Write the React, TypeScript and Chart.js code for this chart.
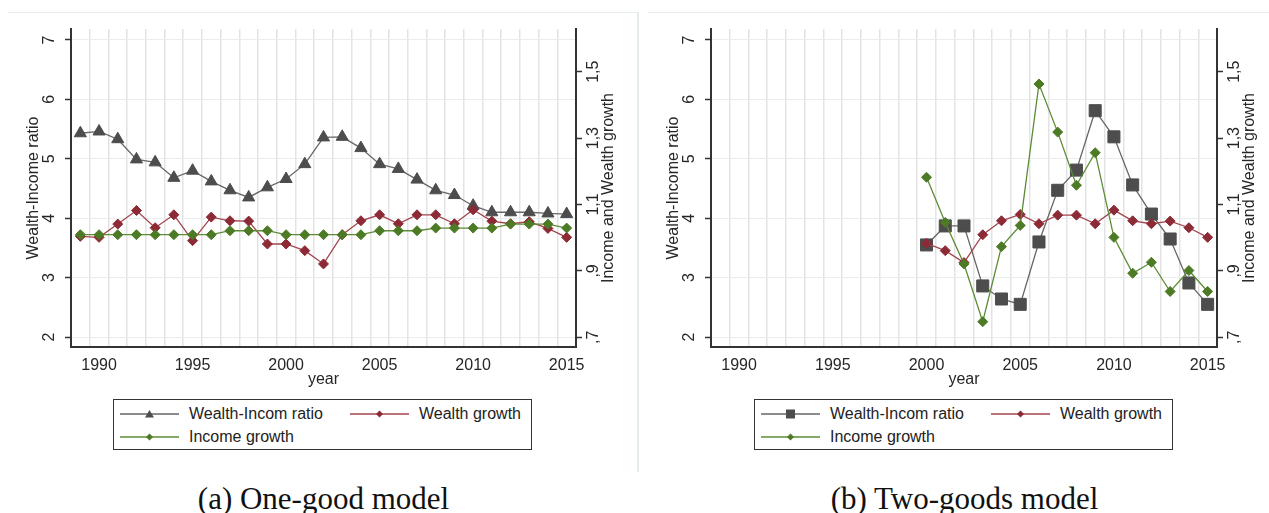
import React, { useEffect, useRef } from "react";
import { Chart, registerables } from "chart.js";
Chart.register(...registerables);

// ---------- data ----------
const years1 = [1989, 1990, 1991, 1992, 1993, 1994, 1995, 1996, 1997, 1998, 1999, 2000, 2001, 2002, 2003, 2004, 2005, 2006, 2007, 2008, 2009, 2010, 2011, 2012, 2013, 2014, 2015];
const oneRatio = [5.43, 5.46, 5.33, 4.99, 4.94, 4.68, 4.8, 4.62, 4.47, 4.35, 4.52, 4.66, 4.91, 5.36, 5.37, 5.18, 4.91, 4.83, 4.65, 4.47, 4.39, 4.21, 4.1, 4.1, 4.1, 4.08, 4.07];
const oneWealth = [1.004, 1.001, 1.041, 1.082, 1.03, 1.069, 0.991, 1.062, 1.051, 1.05, 0.981, 0.981, 0.961, 0.921, 1.009, 1.051, 1.069, 1.042, 1.069, 1.069, 1.042, 1.084, 1.05, 1.042, 1.048, 1.028, 1.001];
const oneIncome = [1.009, 1.009, 1.009, 1.009, 1.009, 1.009, 1.009, 1.009, 1.021, 1.021, 1.021, 1.009, 1.009, 1.009, 1.009, 1.009, 1.021, 1.021, 1.021, 1.029, 1.029, 1.029, 1.029, 1.041, 1.041, 1.041, 1.029];

const years2 = [2000, 2001, 2002, 2003, 2004, 2005, 2006, 2007, 2008, 2009, 2010, 2011, 2012, 2013, 2014, 2015];
const twoRatio = [3.55, 3.87, 3.87, 2.86, 2.64, 2.55, 3.6, 4.47, 4.81, 5.81, 5.37, 4.56, 4.07, 3.65, 2.91, 2.55];
const twoWealth = [0.983, 0.961, 0.925, 1.009, 1.051, 1.07, 1.042, 1.068, 1.068, 1.042, 1.083, 1.051, 1.042, 1.05, 1.03, 1.001];
const twoIncome = [1.182, 1.046, 0.921, 0.747, 0.973, 1.037, 1.463, 1.318, 1.158, 1.256, 1.001, 0.893, 0.926, 0.838, 0.901, 0.838];

const leftTicks = [2, 3, 4, 5, 6, 7];
const rightTicks = [0.7, 0.9, 1.1, 1.3, 1.5];
const rightTickLabels = [",7", ",9", "1,1", "1,3", "1,5"];
const xLabelYears = [1990, 1995, 2000, 2005, 2010, 2015];

const legendLabels = ["Wealth-Incom ratio", "Wealth growth", "Income growth"];
const captions = ["(a) One-good model", "(b) Two-goods model"];

// ---------- styles ----------
const SANS = '"Liberation Sans", Arial, sans-serif';
const GRAY = "#4d4d4d";
const GRAY_LINE = "#666666";
const RED = "#8c2a36";
const RED_LINE = "#a3454f";
const GREEN = "#4d7a25";
const GREEN_LINE = "#5c8c33";
const AXIS = "#333333";

const axisTextPlugin = {
  id: "axisText",
  afterDraw(chart: any) {
    const ctx = chart.ctx;
    const { left, right, bottom } = chart.chartArea;
    const ys = chart.scales.y;
    const y1 = chart.scales.y1;
    const xs = chart.scales.x;
    ctx.save();
    ctx.fillStyle = "#262626";
    ctx.font = `16px ${SANS}`;
    ctx.textAlign = "center";
    ctx.textBaseline = "middle";
    const rot = (text: string, x: number, y: number) => {
      ctx.save();
      ctx.translate(x, y);
      ctx.rotate(-Math.PI / 2);
      ctx.fillText(text, 0, 0);
      ctx.restore();
    };
    leftTicks.forEach((v) => rot(String(v), left - 21, ys.getPixelForValue(v)));
    rightTicks.forEach((v, i) => rot(rightTickLabels[i], right + 18, y1.getPixelForValue(v)));
    const midY = (chart.chartArea.top + bottom) / 2;
    rot("Wealth-Income ratio", left - 37, midY);
    rot("Income and Wealth growth", right + 33, midY);
    xLabelYears.forEach((v) => ctx.fillText(String(v), xs.getPixelForValue(v), bottom + 19));
    ctx.fillText("year", (left + right) / 2, bottom + 33);
    ctx.restore();
  },
};

function makeConfig(datasets: any[], rightW: number) {
  return {
    type: "line",
    data: { datasets },
    plugins: [axisTextPlugin],
    options: {
      responsive: false,
      maintainAspectRatio: false,
      animation: false,
      layout: { padding: { top: 17, left: 0, right: 0, bottom: 0 } },
      plugins: { legend: { display: false }, tooltip: { enabled: false } },
      scales: {
        x: {
          type: "linear",
          min: 1988.5,
          max: 2015.5,
          ticks: { display: false, stepSize: 1, includeBounds: false, autoSkip: false },
          grid: {
            color: "#e3e3e3",
            lineWidth: 1.5,
            tickLength: 6,
            tickWidth: 1.5,
            tickColor: (c: any) => (c.tick && c.tick.value % 5 === 0 ? AXIS : "rgba(0,0,0,0)"),
          },
          border: { color: AXIS, width: 2 },
          afterFit: (s: any) => { s.height = 50; },
        },
        y: {
          type: "linear",
          position: "left",
          min: 1.832,
          max: 7.185,
          ticks: { display: false, stepSize: 1, includeBounds: false },
          grid: { color: "#e8eeee", lineWidth: 1, tickLength: 6, tickWidth: 1.5, tickColor: AXIS },
          border: { color: AXIS, width: 2 },
          afterFit: (s: any) => { s.width = 63; },
        },
        y1: {
          type: "linear",
          position: "right",
          min: 0.6708,
          max: 1.6286,
          ticks: { display: false },
          afterBuildTicks: (s: any) => { s.ticks = rightTicks.map((v) => ({ value: v })); },
          grid: { drawOnChartArea: false, tickLength: 6, tickWidth: 1.5, tickColor: AXIS },
          border: { color: AXIS, width: 2 },
          afterFit: (s: any) => { s.width = rightW; },
        },
      },
    },
  } as any;
}

function buildDatasets(years: number[], ratio: number[], wealth: number[], income: number[], ratioStyle: string, ratioRadius: number) {
  const pts = (arr: number[]) => arr.map((v, i) => ({ x: years[i], y: v }));
  return [
    {
      label: legendLabels[2],
      data: pts(income),
      yAxisID: "y1",
      borderColor: GREEN_LINE,
      backgroundColor: GREEN,
      pointBackgroundColor: GREEN,
      pointBorderColor: GREEN,
      borderWidth: 1.3,
      pointStyle: "rectRot",
      pointRadius: 5,
      pointBorderWidth: 1,
      order: 0,
    },
    {
      label: legendLabels[1],
      data: pts(wealth),
      yAxisID: "y1",
      borderColor: RED_LINE,
      backgroundColor: RED,
      pointBackgroundColor: RED,
      pointBorderColor: RED,
      borderWidth: 1.3,
      pointStyle: "rectRot",
      pointRadius: 5,
      pointBorderWidth: 1,
      order: 1,
    },
    {
      label: legendLabels[0],
      data: pts(ratio),
      yAxisID: "y",
      borderColor: GRAY_LINE,
      backgroundColor: GRAY,
      pointBackgroundColor: GRAY,
      pointBorderColor: GRAY,
      borderWidth: 1.3,
      pointStyle: ratioStyle,
      pointRadius: ratioRadius,
      pointBorderWidth: 1,
      order: 2,
    },
  ];
}

function ChartCanvas({ datasets, width, rightW }: { datasets: any[]; width: number; rightW: number }) {
  const ref = useRef<HTMLCanvasElement | null>(null);
  useEffect(() => {
    if (!ref.current) return;
    const chart = new Chart(ref.current, makeConfig(datasets, rightW));
    return () => chart.destroy();
  }, []);
  return <canvas ref={ref} width={width} height={385} style={{ width, height: 385, display: "block" }} />;
}

function Marker({ kind, color }: { kind: string; color: string }) {
  if (kind === "triangle") return <polygon points="29.5,2 34,9.5 25,9.5" fill={color} />;
  if (kind === "square") return <rect x={25} y={1.5} width={9} height={9} fill={color} />;
  return <polygon points="29.5,2.5 33,6 29.5,9.5 26,6" fill={color} />;
}

function Sample({ kind, color, lineColor }: { kind: string; color: string; lineColor: string }) {
  return (
    <svg width={59} height={12} style={{ display: "block" }}>
      <line x1={0} y1={6} x2={59} y2={6} stroke={lineColor} strokeWidth={1.5} />
      <Marker kind={kind} color={color} />
    </svg>
  );
}

function Legend({ left, ratioKind }: { left: number; ratioKind: string }) {
  const text: React.CSSProperties = {
    position: "absolute",
    font: `16px ${SANS}`,
    color: "#222",
    lineHeight: "18px",
    whiteSpace: "nowrap",
  };
  const samp: React.CSSProperties = { position: "absolute" };
  return (
    <div
      style={{
        position: "absolute",
        left,
        top: 399,
        width: 417,
        height: 49,
        border: "1.5px solid #333",
        background: "#fff",
      }}
    >
      <div style={{ ...samp, left: 6, top: 8 }}>
        <Sample kind={ratioKind} color={GRAY} lineColor={GRAY_LINE} />
      </div>
      <div style={{ ...text, left: 75, top: 5 }}>{legendLabels[0]}</div>
      <div style={{ ...samp, left: 236, top: 8 }}>
        <Sample kind="diamond" color={RED} lineColor={RED_LINE} />
      </div>
      <div style={{ ...text, left: 305, top: 5 }}>{legendLabels[1]}</div>
      <div style={{ ...samp, left: 6, top: 31 }}>
        <Sample kind="diamond" color={GREEN} lineColor={GREEN_LINE} />
      </div>
      <div style={{ ...text, left: 75, top: 28 }}>{legendLabels[2]}</div>
    </div>
  );
}

function Caption({ center, text }: { center: number; text: string }) {
  return (
    <div
      style={{
        position: "absolute",
        left: center - 200,
        width: 400,
        top: 483,
        textAlign: "center",
        font: `31px "Liberation Serif", "Times New Roman", serif`,
        lineHeight: "31px",
        color: "#111",
        whiteSpace: "nowrap",
      }}
    >
      {text}
    </div>
  );
}

export default function App() {
  const ds1 = buildDatasets(years1, oneRatio, oneWealth, oneIncome, "triangle", 7);
  const ds2 = buildDatasets(years2, twoRatio, twoWealth, twoIncome, "rect", 8.5);
  return (
    <div style={{ position: "absolute", left: 0, top: 0, width: 1269, height: 513, background: "#fff", overflow: "hidden" }}>
      {/* panel frames */}
      <div style={{ position: "absolute", left: 8, top: 12, width: 630, height: 1, background: "#e4ecef" }} />
      <div style={{ position: "absolute", left: 637, top: 12, width: 1.5, height: 460, background: "#e4ecef" }} />
      <div style={{ position: "absolute", left: 648, top: 12, width: 621, height: 1, background: "#e4ecef" }} />

      <div style={{ position: "absolute", left: 8, top: 12 }}>
        <ChartCanvas datasets={ds1} width={629} rightW={61} />
      </div>
      <div style={{ position: "absolute", left: 648, top: 12 }}>
        <ChartCanvas datasets={ds2} width={621} rightW={52} />
      </div>

      <Legend left={113} ratioKind="triangle" />
      <Legend left={754} ratioKind="square" />

      <Caption center={323.5} text={captions[0]} />
      <Caption center={964.5} text={captions[1]} />
    </div>
  );
}
